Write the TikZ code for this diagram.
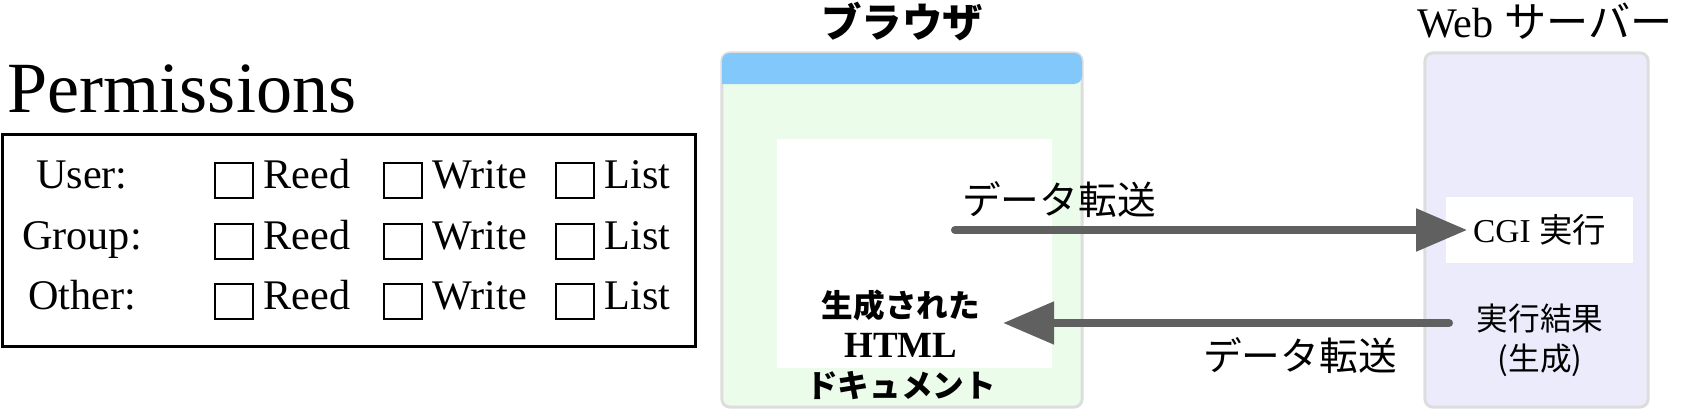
\documentclass[tikz,border=0pt]{standalone}
\usepackage{fontspec}
\setmainfont{Liberation Serif}
\newfontfamily\jp{Noto Sans CJK JP}
\usetikzlibrary{arrows.meta,positioning}
\definecolor{barblue}{HTML}{82C8FB}
\definecolor{pagegreen}{HTML}{EBFDEA}
\definecolor{srvlav}{HTML}{EBEBFC}
\definecolor{framegray}{HTML}{DDDDDD}
\definecolor{flowgray}{HTML}{606060}

\begin{document}
\begin{tikzpicture}[x=0.01cm,y=-0.01cm,
  chk/.style={draw,line width=0.6pt,minimum width=0.38cm,minimum height=0.35cm,inner sep=0pt},
  opt/.style={anchor=base west,inner sep=0pt,font=\fontsize{12}{14}\selectfont},
  rowlbl/.style={anchor=base,inner sep=0pt,font=\fontsize{12}{14}\selectfont},
  win/.style={draw=framegray,line width=0.85pt,rounded corners=0.08cm,inner sep=0pt},
  jtxt/.style={inner sep=0pt,align=center,font=\jp\fontsize{9}{11.4}\selectfont},
  flow/.style={draw=flowgray,line width=2.3pt,line cap=round,-{Triangle[length=0.51cm,width=0.41cm]}}]
\useasboundingbox (0,0) rectangle (1687,418);
% permissions form
\node[anchor=base west,inner sep=0pt,font=\fontsize{20.5}{24}\selectfont] (title) at (7,113) {Permissions};
\node[draw,line width=0.85pt,minimum width=6.92cm,minimum height=2.11cm,inner sep=0pt] (perm) at (349,240.5) {};
\foreach \y/\who [count=\r] in {188/User:,249/Group:,309/Other:} {
  \node[rowlbl] (who\r) at (82,\y) {\who};
  \foreach \x/\what [count=\c] in {214/Reed,383/Write,555/List} {
    \node[chk,anchor=north west] (box\r\c) at (\x,\y-26) {};
    \node[opt] (opt\r\c) at (\x+49,\y) {\what};
  }
}
% browser
\node[win,fill=pagegreen,minimum width=3.6cm,minimum height=3.54cm] (browser) at (902,230) {};
\fill[barblue] (722,84) [rounded corners=0.08cm] |- (902,53) -| (1082,84) [sharp corners] -- cycle;
\node[fill=white,minimum width=2.75cm,minimum height=2.29cm,inner sep=0pt] (page) at (914.5,253.5) {};
\node[jtxt,font=\jp\bfseries\fontsize{9}{11.4}\selectfont] (doc) at (901,345) {生成された\\{\rmfamily\fontsize{10.5}{11.4}\selectfont HTML}\\ドキュメント};
\node[inner sep=0pt,font=\jp\bfseries\fontsize{11.5}{14}\selectfont] (btitle) at (902,22) {ブラウザ};
% server
\node[win,fill=srvlav,minimum width=2.23cm,minimum height=3.54cm] (server) at (1536.5,230) {};
\node[fill=white,minimum width=1.87cm,minimum height=0.66cm,inner sep=0pt,font=\fontsize{9.5}{11}\selectfont] (cgi) at (1539.5,230) {CGI {\jp 実行}};
\node[jtxt] (result) at (1540,340) {実行結果\\(生成)};
\node[inner sep=0pt,font=\fontsize{12}{14}\selectfont] (stitle) at (1545,21) {Web {\jp サーバー}};
% transfers
\coordinate (sendfrom) at (955,230);
\coordinate (backfrom) at (1449,323);
\coordinate (backto) at (1003,323);
\draw[flow] (sendfrom) -- ([xshift=0.22cm]cgi.west);
\draw[flow] (backfrom) -- (backto);
\node[inner sep=0pt,font=\jp\fontsize{11}{13}\selectfont] (sendlbl) at (1059,200) {データ転送};
\node[inner sep=0pt,font=\jp\fontsize{11}{13}\selectfont] (backlbl) at (1300,356) {データ転送};
\end{tikzpicture}
\end{document}
